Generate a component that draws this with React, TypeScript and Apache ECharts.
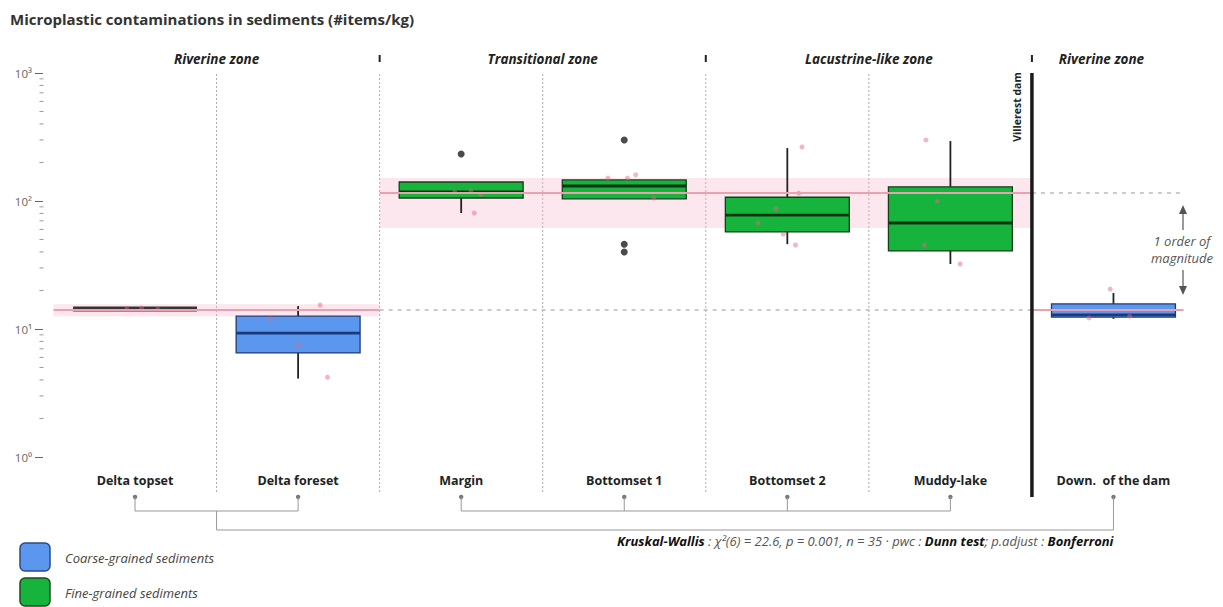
import React, { useEffect, useRef } from "react";
import * as echarts from "echarts";

// ---------- data ----------
const categories = ["Delta topset", "Delta foreset", "Margin", "Bottomset 1", "Bottomset 2", "Muddy-lake", "Down.  of the dam"];
const grain = ["coarse", "coarse", "fine", "fine", "fine", "fine", "coarse"];
const whiskerLow = [14.3, 4.1, 80.5, 104, 46, 32.2, 12.0];
const q1 = [14.3, 6.5, 105.5, 104, 57.3, 40.7, 12.4];
const median = [14.3, 9.3, 117.6, 131, 77.7, 67.3, 12.9];
const q3 = [14.3, 12.6, 140.7, 146, 107, 129, 15.7];
const whiskerHigh = [14.3, 15.1, 140.7, 146, 259, 294, 19.1];

const outlierCat = [2, 3, 3, 3];
const outlierVal = [233, 300, 46, 40];

const jitterCat = [0, 0, 0, 1, 1, 1, 1, 2, 2, 2, 2, 3, 3, 3, 3, 4, 4, 4, 4, 4, 4, 5, 5, 5, 5, 6, 6, 6];
const jitterOff = [-0.05, 0.04, 0.14, -0.17, 0, 0.135, 0.18, 0.08, -0.04, 0.06, 0.12, -0.1, 0.02, 0.07, 0.18, 0.09, 0.07, -0.07, -0.18, -0.025, 0.05, -0.15, -0.08, -0.16, 0.06, -0.02, 0.1, -0.15];
const jitterVal = [14.3, 14.6, 14.2, 12.0, 7.5, 15.4, 4.2, 80.6, 118, 120, 112, 151, 151, 160, 105.5, 264, 115, 86.6, 67.3, 55.2, 45.3, 300, 100, 45.3, 32.2, 20.5, 12.6, 12.2];

const riverineLevel = 14.2;
const lakeLevel = 115;
const riverineBand = [12.5, 15.6];
const lakeBand = [61.5, 151];

const yTickLabels: Record<number, string> = { 1: "10⁰", 10: "10¹", 100: "10²", 1000: "10³" };
const minorTickValues = [2, 3, 4, 5, 6, 7, 8, 9, 20, 30, 40, 50, 60, 70, 80, 90, 200, 300, 400, 500, 600, 700, 800, 900];

const zoneLabels = ["Riverine zone", "Transitional zone", "Lacustrine-like zone", "Riverine zone"];
const legendLabels = ["Coarse-grained sediments", "Fine-grained sediments"];

// ---------- layout / style ----------
const W = 1223;
const H = 607;
const GRID_LEFT = 53.5;
const GRID_RIGHT_X = 1195;
const GRID_TOP = 73;
const GRID_BOTTOM_Y = 457;
const BAND = (GRID_RIGHT_X - GRID_LEFT) / categories.length;
const catX = (i: number) => GRID_LEFT + BAND * (i + 0.5);
const divX = (i: number) => GRID_LEFT + BAND * i;

const FONT = "'Open Sans', 'Noto Sans', sans-serif";
const COLORS: Record<string, { fill: string; border: string; median: string }> = {
  coarse: { fill: "#5b97ee", border: "#1f3b76", median: "#1a3a7a" },
  fine: { fill: "#16b43c", border: "#173d1c", median: "#0c3412" },
};
const PINK_LINE = "#e9a2b2";
const PINK_BAND = "rgba(247,185,205,0.35)";

export default function App() {
  const ref = useRef<HTMLDivElement>(null);

  useEffect(() => {
    document.body.style.margin = "0";
    if (!ref.current) return;
    const chart = echarts.init(ref.current, undefined, { renderer: "svg" });

    const boxData = categories.map((_, i) => [i, whiskerLow[i], q1[i], median[i], q3[i], whiskerHigh[i]]);

    const renderBox = (params: any, api: any) => {
      const i = api.value(0);
      const c = COLORS[grain[params.dataIndex]];
      const pLo = api.coord([i, api.value(1)]);
      const pQ1 = api.coord([i, api.value(2)]);
      const pMed = api.coord([i, api.value(3)]);
      const pQ3 = api.coord([i, api.value(4)]);
      const pHi = api.coord([i, api.value(5)]);
      const bw = api.size([1, 0])[0] * 0.76;
      const x = pMed[0];
      const children: any[] = [];
      if (Math.abs(pQ1[1] - pQ3[1]) < 0.5) {
        children.push({
          type: "rect",
          shape: { x: x - bw / 2, y: pMed[1] - 2.5, width: bw, height: 5 },
          style: { fill: "#353535" },
        });
        return { type: "group", children };
      }
      children.push({
        type: "line",
        shape: { x1: x, y1: pHi[1], x2: x, y2: pQ3[1] },
        style: { stroke: "#222", lineWidth: 1.8 },
      });
      children.push({
        type: "line",
        shape: { x1: x, y1: pQ1[1], x2: x, y2: pLo[1] },
        style: { stroke: "#222", lineWidth: 1.8 },
      });
      children.push({
        type: "rect",
        shape: { x: x - bw / 2, y: pQ3[1], width: bw, height: pQ1[1] - pQ3[1] },
        style: { fill: c.fill, stroke: c.border, lineWidth: 1.3 },
      });
      children.push({
        type: "line",
        shape: { x1: x - bw / 2, y1: pMed[1], x2: x + bw / 2, y2: pMed[1] },
        style: { stroke: c.median, lineWidth: 2.8 },
      });
      return { type: "group", children };
    };

    const renderMinorTick = (_params: any, api: any) => {
      const p = api.coord([-0.5, api.value(0)]);
      return {
        type: "line",
        shape: { x1: p[0] - 14, y1: p[1], x2: p[0] - 10, y2: p[1] },
        style: { stroke: "#999", lineWidth: 1 },
      };
    };

    const graphics: any[] = [];
    // title
    graphics.push({
      type: "text",
      x: 10,
      y: 19,
      style: {
        text: "Microplastic contaminations in sediments (#items/kg)",
        font: `bold 15px ${FONT}`,
        fill: "#333",
        verticalAlign: "middle",
      },
    });
    // dotted category dividers
    for (let i = 1; i < categories.length - 1; i++) {
      graphics.push({
        type: "line",
        shape: { x1: divX(i), y1: 74, x2: divX(i), y2: 493 },
        style: { stroke: "#aaa", lineWidth: 1, lineDash: [2, 2] },
        z: 1,
      });
    }
    // zone tick markers
    [2, 4, 6].forEach((i) => {
      graphics.push({
        type: "line",
        shape: { x1: divX(i), y1: 55, x2: divX(i), y2: 62 },
        style: { stroke: "#222", lineWidth: 2 },
      });
    });
    // zone labels
    const zoneX = [divX(1), divX(3), divX(5), catX(6) - 12];
    zoneLabels.forEach((t, k) => {
      graphics.push({
        type: "text",
        x: zoneX[k],
        y: 59,
        style: { text: t, font: `italic bold 13.5px ${FONT}`, fill: "#222", align: "center", verticalAlign: "middle" },
      });
    });
    // dam
    graphics.push({
      type: "line",
      shape: { x1: divX(6), y1: 73, x2: divX(6), y2: 497 },
      style: { stroke: "#1a1a1a", lineWidth: 3.5 },
      z: 20,
    });
    graphics.push({
      type: "text",
      x: divX(6) - 15,
      y: 107,
      rotation: Math.PI / 2,
      style: { text: "Villerest dam", font: `bold 10.5px ${FONT}`, fill: "#222", align: "center", verticalAlign: "middle" },
      z: 20,
    });
    // order of magnitude annotation
    const ax = 1183;
    graphics.push({ type: "line", shape: { x1: ax, y1: 230, x2: ax, y2: 212 }, style: { stroke: "#555", lineWidth: 1.2 } });
    graphics.push({ type: "polygon", shape: { points: [[ax - 4, 214], [ax, 205], [ax + 4, 214]] }, style: { fill: "#555" } });
    graphics.push({ type: "line", shape: { x1: ax, y1: 270, x2: ax, y2: 288 }, style: { stroke: "#555", lineWidth: 1.2 } });
    graphics.push({ type: "polygon", shape: { points: [[ax - 4, 286], [ax, 295], [ax + 4, 286]] }, style: { fill: "#555" } });
    graphics.push({
      type: "text",
      x: ax - 1,
      y: 241,
      style: { text: "1 order of", font: `italic 13px ${FONT}`, fill: "#555", align: "center", verticalAlign: "middle" },
    });
    graphics.push({
      type: "text",
      x: ax - 1,
      y: 258,
      style: { text: "magnitude", font: `italic 13px ${FONT}`, fill: "#555", align: "center", verticalAlign: "middle" },
    });
    // bottom comparison brackets
    const dotY = 497;
    const b1Y = 511;
    const b2Y = 530;
    const brStyle = { stroke: "#999", lineWidth: 1 };
    categories.forEach((_, i) => {
      graphics.push({ type: "circle", shape: { cx: catX(i), cy: dotY, r: 2.2 }, style: { fill: "#777" } });
    });
    [0, 1].forEach((i) => graphics.push({ type: "line", shape: { x1: catX(i), y1: dotY, x2: catX(i), y2: b1Y }, style: brStyle }));
    graphics.push({ type: "line", shape: { x1: catX(0), y1: b1Y, x2: catX(1), y2: b1Y }, style: brStyle });
    [2, 3, 4, 5].forEach((i) => graphics.push({ type: "line", shape: { x1: catX(i), y1: dotY, x2: catX(i), y2: b1Y }, style: brStyle }));
    graphics.push({ type: "line", shape: { x1: catX(2), y1: b1Y, x2: catX(5), y2: b1Y }, style: brStyle });
    graphics.push({ type: "line", shape: { x1: divX(1), y1: b1Y, x2: divX(1), y2: b2Y }, style: brStyle });
    graphics.push({ type: "line", shape: { x1: divX(1), y1: b2Y, x2: catX(6), y2: b2Y }, style: brStyle });
    graphics.push({ type: "line", shape: { x1: catX(6), y1: dotY, x2: catX(6), y2: b2Y }, style: brStyle });
    // stats text
    graphics.push({
      type: "text",
      x: catX(6),
      y: 541,
      style: {
        text: "{b|Kruskal-Wallis}{n| : χ²(6) = 22.6, p = 0.001, n = 35 · pwc : }{b|Dunn test}{n|; p.adjust : }{b|Bonferroni}",
        align: "right",
        verticalAlign: "middle",
        rich: {
          b: { font: `italic bold 13px ${FONT}`, fill: "#111" },
          n: { font: `italic 13px ${FONT}`, fill: "#555" },
        },
      },
    });
    // legend
    ["coarse", "fine"].forEach((g, k) => {
      const y = 543 + k * 35;
      graphics.push({
        type: "rect",
        shape: { x: 20, y, width: 30, height: 28, r: 5 },
        style: { fill: COLORS[g].fill, stroke: g === "coarse" ? "#2b4a8a" : "#1d4a23", lineWidth: 1.5 },
      });
      graphics.push({
        type: "text",
        x: 65,
        y: y + 15,
        style: { text: legendLabels[k], font: `italic 13px ${FONT}`, fill: "#444", verticalAlign: "middle" },
      });
    });

    chart.setOption({
      animation: false,
      grid: { left: GRID_LEFT, top: GRID_TOP, width: GRID_RIGHT_X - GRID_LEFT, height: GRID_BOTTOM_Y - GRID_TOP },
      xAxis: [
        {
          type: "category",
          data: categories,
          axisLine: { show: false },
          axisTick: { show: false },
          splitLine: { show: false },
          axisLabel: { margin: 17, fontFamily: FONT, fontWeight: "bold", fontSize: 12.5, color: "#222" },
        },
        { type: "value", min: -0.5, max: 6.5, show: false },
      ],
      yAxis: {
        type: "log",
        logBase: 10,
        min: 1,
        max: 1000,
        splitNumber: 3,
        offset: 10.5,
        axisLine: { show: false, onZero: false },
        axisTick: { show: true, length: 8, lineStyle: { color: "#666" } },
        splitLine: { show: false },
        axisLabel: { margin: 11, fontFamily: FONT, fontSize: 11.5, color: "#666", formatter: (v: number) => yTickLabels[Math.round(v)] ?? "" },
      },
      graphic: graphics,
      series: [
        {
          type: "scatter",
          xAxisIndex: 1,
          data: [],
          z: 1,
          silent: true,
          markArea: {
            silent: true,
            itemStyle: { color: PINK_BAND },
            data: [
              [{ coord: [-0.5, riverineBand[0]] }, { coord: [1.5, riverineBand[1]] }],
              [{ coord: [1.5, lakeBand[0]] }, { coord: [5.5, lakeBand[1]] }],
            ],
          },
          markLine: {
            silent: true,
            symbol: "none",
            label: { show: false },
            data: [
              [{ coord: [-0.5, riverineLevel], lineStyle: { color: PINK_LINE, width: 2, type: "solid" } }, { coord: [1.5, riverineLevel] }],
              [{ coord: [1.5, riverineLevel], lineStyle: { color: "#bbb", width: 1.5, type: [4, 5] } }, { coord: [5.5, riverineLevel] }],
              [{ coord: [5.5, riverineLevel], lineStyle: { color: PINK_LINE, width: 2, type: "solid" } }, { coord: [6.43, riverineLevel] }],
              [{ coord: [1.5, lakeLevel], lineStyle: { color: PINK_LINE, width: 2, type: "solid" } }, { coord: [5.5, lakeLevel] }],
              [{ coord: [5.5, lakeLevel], lineStyle: { color: "#bbb", width: 1.5, type: [4, 5] } }, { coord: [6.43, lakeLevel] }],
            ],
          },
        },
        {
          type: "custom",
          xAxisIndex: 1,
          renderItem: renderMinorTick,
          data: minorTickValues.map((v) => [v]),
          encode: { y: 0 },
          silent: true,
          clip: false,
        },
        {
          type: "custom",
          xAxisIndex: 0,
          renderItem: renderBox,
          data: boxData,
          encode: { x: 0, y: [1, 2, 3, 4, 5] },
          z: 3,
        },
        {
          type: "scatter",
          xAxisIndex: 1,
          data: jitterCat.map((c, k) => [c + jitterOff[k], jitterVal[k]]),
          symbolSize: 5,
          itemStyle: { color: "rgba(228,100,135,0.6)" },
          z: 4,
        },
        {
          type: "scatter",
          xAxisIndex: 0,
          data: outlierCat.map((c, k) => [c, outlierVal[k]]),
          symbolSize: 7,
          itemStyle: { color: "#1e1e1e" },
          z: 5,
        },
      ],
    });

    return () => chart.dispose();
  }, []);

  return <div ref={ref} style={{ width: W, height: H }} />;
}
